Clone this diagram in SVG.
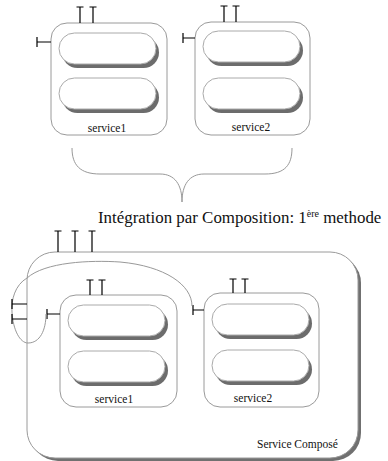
<svg xmlns="http://www.w3.org/2000/svg" xmlns:xlink="http://www.w3.org/1999/xlink" width="388" height="461" viewBox="0 0 388 461">
<style>
.box{fill:#fff;stroke:#9a9a9a;stroke-width:1}
.pill{fill:#fff;stroke:#aaa;stroke-width:1}
.pshadow{fill:#6c6c6c}
.oshadow{fill:#707070}
.tee{fill:none;stroke:#000;stroke-width:1.2}
.conn{fill:none;stroke:#999;stroke-width:1}
.lbl{font-family:"Liberation Serif",serif;font-size:11.5px;fill:#111}
.cap{font-family:"Liberation Serif",serif;font-size:16.9px;fill:#111}
</style>
<defs>
<g id="pill"><rect x="3" y="4" width="97" height="31" rx="15.5" class="pshadow"/><rect width="97" height="31" rx="15.5" class="pill"/></g>
</defs>
<rect width="388" height="461" fill="#fff"/>

<g id="top-service1">
<rect x="51" y="23" width="116" height="112" rx="16" class="box"/>
<use xlink:href="#pill" x="59" y="33"/>
<use xlink:href="#pill" x="59" y="78"/>
<text x="107" y="132" text-anchor="middle" class="lbl">service1</text>
<path class="tee" d="M76.5,7H83.5M80,7V23M89.5,7H96.5M93,7V23M37,37V47M37,42H51"/>
</g>

<g id="top-service2">
<rect x="195" y="22" width="115" height="113" rx="16" class="box"/>
<use xlink:href="#pill" x="203" y="31"/>
<use xlink:href="#pill" x="203" y="78"/>
<text x="251" y="131" text-anchor="middle" class="lbl">service2</text>
<path class="tee" d="M220.5,6H227.5M224,6V22M232.5,6H239.5M236,6V22M183,33V43M183,38H195"/>
</g>

<g id="brace">
<path class="conn" d="M72,148C72,165 80,174 100,174L160,174C175,174 182,185 182,202C182,185 189,174 204,174L265,174C285,174 292,165 292,148"/>
</g>

<g id="caption">
<text x="98" y="223" class="cap">Intégration par Composition: 1<tspan font-size="10" dy="-6">ère</tspan><tspan dy="6"> methode</tspan></text>
</g>

<g id="service-compose">
<rect x="30" y="255" width="331" height="206" rx="28" class="oshadow"/>
<rect x="27" y="252" width="331" height="206" rx="28" class="box"/>
<text x="257" y="448" class="lbl">Service Composé</text>
<path class="tee" d="M54.5,231H61.5M58,231V252M71.5,231H78.5M75,231V252M88.5,231H95.5M92,231V252"/>
</g>

<g id="bottom-service1">
<rect x="60" y="295" width="117" height="112" rx="16" class="box"/>
<use xlink:href="#pill" x="68" y="305"/>
<use xlink:href="#pill" x="68" y="351"/>
<text x="114" y="403" text-anchor="middle" class="lbl">service1</text>
<path class="tee" d="M86.5,280H93.5M90,280V295M98.5,280H105.5M102,280V295M47,309V319M47,314H60"/>
</g>

<g id="bottom-service2">
<rect x="204" y="293" width="115" height="114" rx="16" class="box"/>
<use xlink:href="#pill" x="212" y="304"/>
<use xlink:href="#pill" x="212" y="350"/>
<text x="253" y="402" text-anchor="middle" class="lbl">service2</text>
<path class="tee" d="M229.5,279H236.5M233,279V293M241.5,279H248.5M245,279V293M193,305V315M193,310H204"/>
</g>

<g id="connectors">
<path class="conn" d="M27,278C45,262 90,260 120,262C165,266 192,285 192,306"/>
<path class="conn" d="M27,278C15,285 11,300 12,312C13,330 20,343 28,343C40,343 46,330 46,314"/>
<path class="tee" d="M12,299V309M12,304H27M12,314V324M12,319H27"/>
</g>
</svg>
